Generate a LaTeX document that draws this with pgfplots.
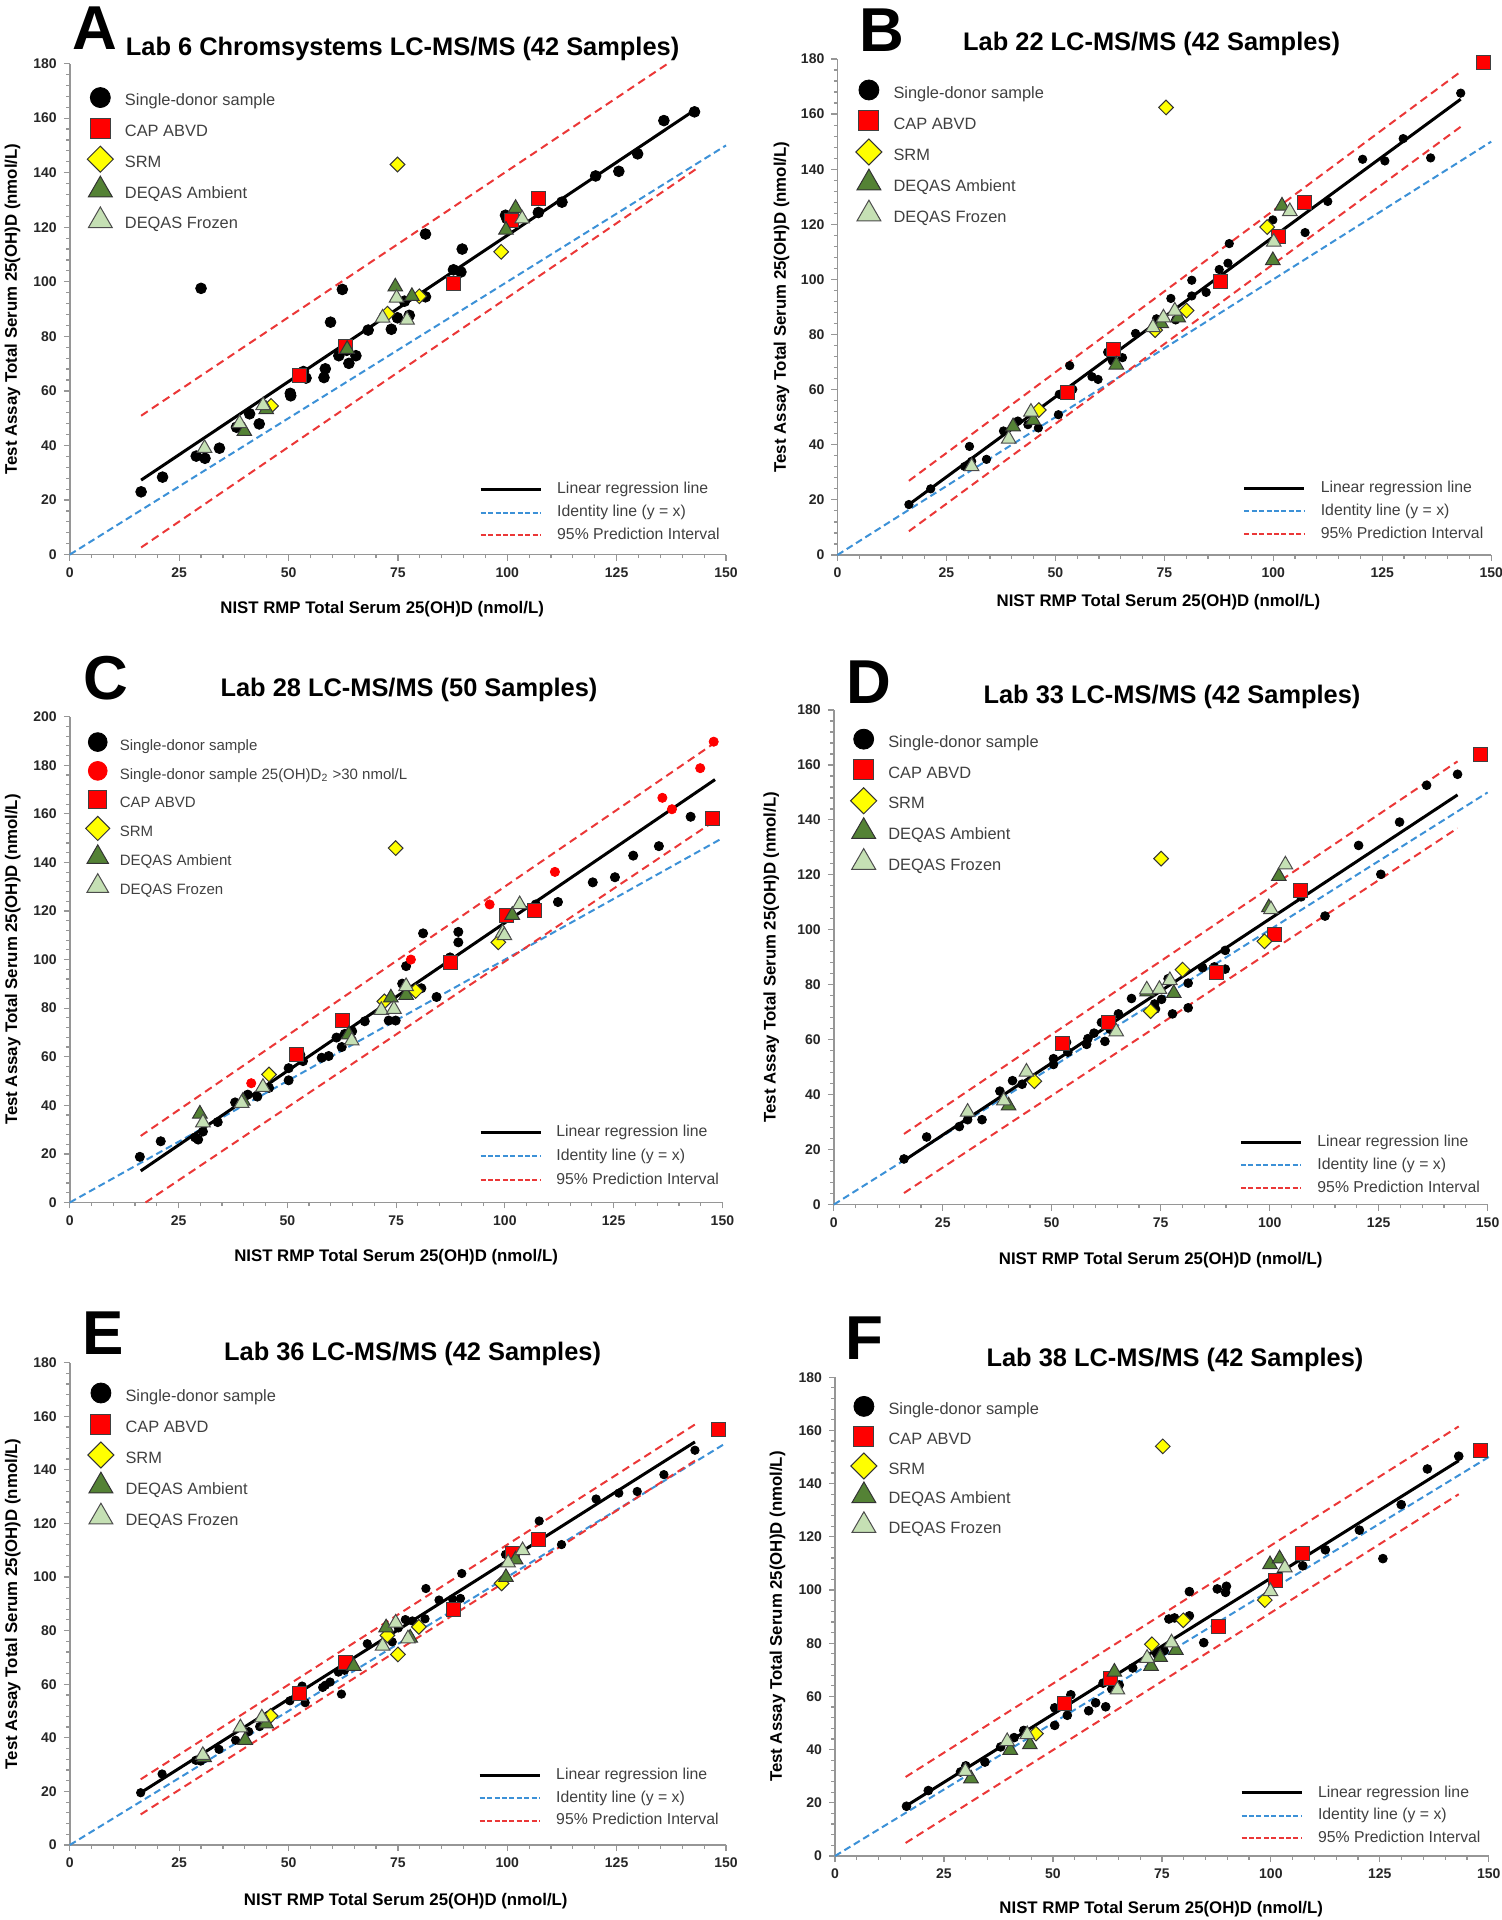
\documentclass[border=0pt]{standalone}
\usepackage{fontspec}
\setmainfont{Liberation Sans}
\usepackage{pgfplots}
\pgfplotsset{compat=1.18}
\definecolor{axgray}{RGB}{150,150,150}
\definecolor{legtext}{RGB}{64,64,64}
\definecolor{identblue}{RGB}{60,145,215}
\definecolor{pired}{RGB}{235,55,55}
\definecolor{capred}{RGB}{255,0,0}
\definecolor{srmyellow}{RGB}{255,255,0}
\definecolor{ambgreen}{RGB}{84,130,53}
\definecolor{frzgreen}{RGB}{197,224,180}
\tikzset{
  reg/.style={black, line width=1.5pt},
  ident/.style={identblue, line width=1pt, dash pattern=on 3.5pt off 2pt},
  pint/.style={pired, line width=1pt, dash pattern=on 4pt off 2.5pt},
  lsd/.style={mark=*, draw=black, fill=black, mark size=5pt},
  lsdr/.style={mark=*, draw=red, fill=red, mark size=4.7pt},
  lcap/.style={mark=square*, draw=black!75, fill=capred, mark size=5pt, line width=0.5pt},
  lsrm/.style={mark=square*, mark options={rotate=45}, draw=black!80, fill=srmyellow, mark size=4.6pt, line width=0.5pt},
  lamb/.style={mark=triangle*, draw=black!80, fill=ambgreen, mark size=6.9pt, line width=0.5pt},
  lfrz/.style={mark=triangle*, draw=black!70, fill=frzgreen, mark size=6.9pt, line width=0.5pt},
}
\pgfplotsset{
  sd/.style={only marks, mark=*, draw=black, fill=black, mark size=2.1pt},
  sdr/.style={only marks, mark=*, draw=red, fill=red, mark size=2.1pt},
  cap/.style={only marks, mark=square*, draw=black!75, fill=capred, mark size=3.5pt, line width=0.5pt},
  srm/.style={only marks, mark=square*, mark options={rotate=45}, draw=black!80, fill=srmyellow, mark size=2.6pt, line width=0.5pt},
  amb/.style={only marks, mark=triangle*, draw=black!80, fill=ambgreen, mark size=4.2pt, line width=0.5pt},
  frz/.style={only marks, mark=triangle*, draw=black!70, fill=frzgreen, mark size=4.2pt, line width=0.5pt},
  panel/.style={scale only axis, anchor=south west, xmin=0, xmax=150, ymin=0, clip=false},
  lineaxis/.style={panel,
    axis x line*=bottom, axis y line*=left,
    axis line style={draw=axgray, line width=0.8pt, -},
    xtick={0,25,...,150}, minor x tick num=4, minor y tick num=4,
    tick align=outside, major tick length=3pt, minor tick length=1.8pt,
    tick style={draw=axgray, line width=0.6pt},
    /pgf/number format/assume math mode=true,
    tick label style={font=\fontsize{7}{8}\selectfont\bfseries, text=black!85},
    xlabel={NIST RMP Total Serum 25(OH)D (nmol/L)},
    ylabel={Test Assay Total Serum 25(OH)D (nmol/L)},
    label style={font=\fontsize{8.4}{10}\selectfont\bfseries},
    legend image code/.code={\draw[##1] (0pt,0pt) -- (30pt,0pt);},
    legend cell align=left,
    legend style={draw=none, fill=none, inner sep=0pt, outer sep=0pt, anchor=south west,
      column sep=7.5pt, row sep=0pt, font=\fontsize{7.9}{9}\selectfont, text=legtext,
      nodes={inner sep=0pt, text height=6pt, text depth=1.8pt, minimum height=11.4pt}},
  },
  markaxis/.style={panel, hide axis,
    legend image code/.code={\draw[##1] plot coordinates {(0pt,2pt)};},
    legend cell align=left,
    legend style={draw=none, fill=none, inner sep=0pt, outer sep=0pt, anchor=north west,
      column sep=5.8pt, row sep=-2.9pt, font=\fontsize{8.2}{9}\selectfont, text=legtext,
      nodes={inner sep=0pt, text height=6pt, text depth=1.8pt, minimum height=18.3pt}},
  },
}
\newcommand{\linelegend}{%
  \addlegendimage{reg}\addlegendentry{Linear regression line}
  \addlegendimage{ident, dash pattern=on 2.5pt off 1.2pt}\addlegendentry{Identity line (y = x)}
  \addlegendimage{pint, dash pattern=on 2.5pt off 1.2pt}\addlegendentry{95\% Prediction Interval}}
\newcommand{\marklegend}{%
  \addlegendimage{lsd}\addlegendentry{Single-donor sample}
  \addlegendimage{lcap}\addlegendentry{CAP ABVD}
  \addlegendimage{lsrm}\addlegendentry{SRM}
  \addlegendimage{lamb}\addlegendentry{DEQAS Ambient}
  \addlegendimage{lfrz}\addlegendentry{DEQAS Frozen}}
\begin{document}
\begin{tikzpicture}
\path[use as bounding box] (0,0) rectangle (750.5pt,960pt);
% ================= A =================
\begin{axis}[lineaxis, at={(34.9pt,682.7pt)}, width=328.1pt, height=245.5pt, ymax=180, ytick={0,20,...,180},
  xlabel style={at={(axis description cs:0.476,-0.1108)}, anchor=center},
  ylabel style={at={(axis description cs:-0.0872,0.5)}, anchor=center},
  legend style={at={(axis description cs:0.6239,0.0159)}}]
\linelegend
\addplot[ident, forget plot] coordinates {(0,0)(150,150)};
\addplot[pint, forget plot] coordinates {(16.3,50.9)(136.7,180)};
\addplot[pint, forget plot] coordinates {(16.3,2.6)(143.3,141.5)};
\addplot[reg, forget plot] coordinates {(16.3,27.3)(142.8,162.9)};
\end{axis}
\begin{axis}[markaxis, at={(34.9pt,682.7pt)}, width=328.1pt, height=245.5pt, ymax=180,
  legend style={at={(axis description cs:0.0267,0.9599)}}]
\marklegend
\addplot[sd, mark size=2.7pt, forget plot] coordinates {(16.3,23.0)(21.2,28.4)(28.9,36.1)(30.9,35.3)(30.0,97.6)(34.2,39.0)(38.1,46.7)(41.1,51.6)(43.3,47.9)(50.4,59.1)(50.5,58.2)(53.4,67.1)(54.0,64.7)(58.1,64.9)(58.4,68.1)(59.6,85.2)(61.5,72.9)(62.3,97.2)(63.3,74.9)(63.8,70.1)(65.4,72.9)(68.2,82.3)(73.5,82.6)(74.9,86.8)(76.5,92.9)(77.6,87.7)(81.3,94.5)(81.3,117.5)(87.7,104.4)(89.4,103.6)(89.7,112.0)(99.6,124.4)(99.9,123.2)(107.1,125.4)(112.5,129.2)(120.2,138.8)(125.5,140.5)(129.8,146.9)(135.8,159.1)(142.8,162.3)};
\addplot[cap, forget plot] coordinates {(52.5,65.5)(63.0,76.1)(87.7,99.2)(101.0,122.6)(107.1,130.6)};
\addplot[srm, forget plot] coordinates {(74.9,143.0)(46.0,54.5)(72.6,88.3)(79.9,94.7)(98.6,111.0)};
\addplot[amb, forget plot] coordinates {(39.9,45.2)(44.9,53.2)(74.4,98.2)(63.4,75.3)(78.2,94.7)(99.7,119.0)(101.9,127.0)};
\addplot[frz, forget plot] coordinates {(30.8,39.0)(38.8,48.1)(44.2,54.7)(71.5,86.8)(74.7,94.1)(77.1,86.0)(103.4,123.1)};
\end{axis}
% ================= B =================
\begin{axis}[lineaxis, at={(418.7pt,682.5pt)}, width=326.9pt, height=248pt, ymax=180, ytick={0,20,...,180},
  xlabel style={at={(axis description cs:0.491,-0.0948)}, anchor=center},
  ylabel style={at={(axis description cs:-0.0853,0.5)}, anchor=center},
  legend style={at={(axis description cs:0.6201,0.0194)}}]
\linelegend
\addplot[ident, forget plot] coordinates {(0,0)(150,150)};
\addplot[pint, forget plot] coordinates {(16.4,26.9)(143,175.4)};
\addplot[pint, forget plot] coordinates {(16.4,8.6)(143,155.4)};
\addplot[reg, forget plot] coordinates {(16.4,18.3)(143,165.4)};
\end{axis}
\begin{axis}[markaxis, at={(418.7pt,682.5pt)}, width=326.9pt, height=248pt, ymax=180,
  legend style={at={(axis description cs:0.0283,0.9663)}, row sep=-2.8pt}]
\marklegend
\addplot[sd, forget plot] coordinates {(16.4,18.3)(21.4,24.0)(29.2,32.1)(30.3,39.4)(30.8,34.0)(34.2,34.7)(38.1,45.0)(41.4,48.6)(43.7,47.3)(46.1,46.1)(50.7,50.9)(50.9,58.3)(53.3,68.7)(54.0,60.1)(58.4,64.7)(59.8,63.7)(62.0,73.6)(63.1,70.4)(65.4,71.6)(68.4,80.4)(73.2,85.7)(76.5,93.1)(77.6,85.3)(81.3,99.7)(81.3,94.0)(84.6,95.3)(87.6,103.6)(89.6,105.9)(89.9,113.0)(99.9,121.6)(107.3,117.0)(112.5,128.3)(120.5,143.6)(125.6,143.0)(129.8,151.1)(136.1,144.1)(143.0,167.6)};
\addplot[cap, forget plot] coordinates {(52.7,59.1)(63.3,74.6)(87.9,99.3)(101.2,115.4)(107.1,127.9)(148.3,178.7)};
\addplot[srm, forget plot] coordinates {(75.4,162.4)(46.2,52.6)(72.9,81.6)(80.1,88.7)(98.6,119.0)};
\addplot[amb, forget plot] coordinates {(40.3,46.6)(44.9,48.9)(64.0,69.0)(74.3,84.0)(78.2,86.1)(99.9,106.9)(102.0,126.7)};
\addplot[frz, forget plot] coordinates {(30.8,32.1)(39.3,42.1)(44.4,51.9)(72.4,82.6)(74.8,86.1)(77.4,88.6)(100.1,113.6)(103.8,124.7)};
\end{axis}
% ================= C =================
\begin{axis}[lineaxis, at={(34.9pt,358.75pt)}, width=326.3pt, height=242.9pt, ymax=200, ytick={0,20,...,200},
  xlabel style={at={(axis description cs:0.5,-0.1124)}, anchor=center},
  ylabel style={at={(axis description cs:-0.0873,0.5)}, anchor=center},
  legend style={at={(axis description cs:0.6273,0.0222)}, column sep=7.1pt, nodes={minimum height=11.8pt}}]
\linelegend
\addplot[ident, forget plot] coordinates {(0,0)(150,150)};
\addplot[pint, forget plot] coordinates {(16.3,27.4)(148.3,189.3)};
\addplot[pint, forget plot] coordinates {(17.4,0)(148.3,157.2)};
\addplot[reg, forget plot] coordinates {(16.3,13.0)(148.3,174.1)};
\end{axis}
\begin{axis}[markaxis, at={(34.9pt,358.75pt)}, width=326.3pt, height=242.9pt, ymax=200,
  legend style={at={(axis description cs:0.0244,0.9743)}, row sep=-2.5pt, column sep=5.05pt,
    font=\fontsize{7.5}{9}\selectfont, nodes={minimum height=16.9pt}}]
\addlegendimage{lsd, mark size=4.7pt}\addlegendentry{Single-donor sample}
\addlegendimage{lsdr, mark size=4.7pt}\addlegendentry{Single-donor sample 25(OH)D\textsubscript{2} >30 nmol/L}
\addlegendimage{lcap, mark size=4.6pt}\addlegendentry{CAP ABVD}
\addlegendimage{lsrm, mark size=4.25pt}\addlegendentry{SRM}
\addlegendimage{lamb, mark size=6.2pt}\addlegendentry{DEQAS Ambient}
\addlegendimage{lfrz, mark size=6.2pt}\addlegendentry{DEQAS Frozen}
\addplot[sd, mark size=2.3pt, forget plot] coordinates {(16.1,18.8)(20.9,25.2)(28.8,26.8)(29.5,25.9)(30.6,29.2)(34.0,33.1)(38.0,41.2)(40.9,44.4)(43.1,43.6)(45.8,47.2)(50.3,50.3)(50.3,55.3)(53.0,60.8)(53.6,58.2)(57.9,59.6)(59.5,60.3)(61.3,67.9)(62.5,64.0)(63.2,69.4)(64.9,70.5)(67.8,74.6)(73.3,74.9)(74.9,74.9)(76.4,90.1)(77.3,97.3)(80.8,88.2)(81.2,110.8)(84.3,84.6)(87.4,100.9)(89.3,107.1)(89.3,111.4)(107.1,122.7)(112.2,123.7)(120.2,131.8)(125.3,133.9)(129.5,142.8)(135.4,146.7)(142.7,158.8)};
\addplot[sdr, mark size=2.3pt, forget plot] coordinates {(41.7,49.1)(78.4,100.0)(96.5,122.7)(111.5,136.1)(136.2,166.6)(138.4,161.9)(144.9,178.8)(148.0,189.7)};
\addplot[cap, forget plot] coordinates {(52.2,61.0)(62.6,74.9)(87.4,98.7)(100.4,118.0)(106.7,120.4)(147.7,158.0)};
\addplot[srm, forget plot] coordinates {(74.9,145.9)(45.8,52.7)(72.3,82.8)(79.5,87.1)(98.5,107.1)};
\addplot[amb, forget plot] coordinates {(29.9,36.5)(39.8,41.8)(73.8,84.3)(77.3,85.4)(101.7,118.3)(64.1,69.1)};
\addplot[frz, forget plot] coordinates {(30.6,32.9)(39.5,40.9)(44.4,47.5)(71.6,79.2)(74.5,79.6)(77.3,89.0)(64.8,66.6)(99.5,111.0)(99.9,109.9)(103.4,122.7)};
\end{axis}
% ================= D =================
\begin{axis}[lineaxis, at={(416.9pt,357.7pt)}, width=326.9pt, height=247.3pt, ymax=180, ytick={0,20,...,180},
  xlabel style={at={(axis description cs:0.5,-0.1132)}, anchor=center},
  ylabel style={at={(axis description cs:-0.0957,0.5)}, anchor=center},
  legend style={at={(axis description cs:0.6204,0.0101)}}]
\linelegend
\addplot[ident, forget plot] coordinates {(0,0)(150,150)};
\addplot[pint, forget plot] coordinates {(16.1,25.7)(143.1,161.3)};
\addplot[pint, forget plot] coordinates {(16.1,4.2)(143.1,137.0)};
\addplot[reg, forget plot] coordinates {(16.1,16.0)(143.1,149.1)};
\end{axis}
\begin{axis}[markaxis, at={(416.9pt,357.7pt)}, width=326.9pt, height=247.3pt, ymax=180,
  legend style={at={(axis description cs:0.0258,0.9699)}}]
\marklegend
\addplot[sd, mark size=2.2pt, forget plot] coordinates {(16.1,16.6)(21.3,24.6)(28.8,28.4)(30.7,30.9)(34.0,30.9)(38.1,41.3)(41.0,45.1)(43.2,43.8)(50.4,53.1)(50.4,51.0)(53.4,59.1)(53.7,55.5)(58.0,58.3)(58.3,60.4)(59.7,62.4)(61.4,66.3)(62.2,59.4)(63.4,63.8)(65.3,69.4)(68.3,75.0)(73.6,73.0)(73.8,71.2)(75.2,74.7)(76.7,82.2)(77.7,69.4)(81.3,80.6)(81.3,71.6)(84.6,86.2)(87.3,86.5)(89.8,85.7)(89.8,92.5)(107.2,112.0)(112.7,105.0)(120.4,130.7)(125.5,120.2)(129.8,139.2)(136.0,152.6)(143.1,156.6)};
\addplot[cap, forget plot] coordinates {(52.5,58.7)(63.0,66.3)(87.7,84.4)(101.1,98.4)(107.1,114.3)(148.4,163.7)};
\addplot[srm, forget plot] coordinates {(75.1,125.9)(46.0,44.9)(72.7,70.4)(80.0,85.5)(98.8,95.8)};
\addplot[amb, forget plot] coordinates {(40.1,36.0)(71.9,77.5)(78.0,76.9)(99.8,108.1)(102.1,119.5)};
\addplot[frz, forget plot] coordinates {(30.7,33.7)(39.0,37.8)(44.2,48.3)(64.8,62.9)(71.8,78.2)(74.7,78.4)(77.1,81.6)(100.3,107.4)(103.6,123.7)};
\end{axis}
% ================= E =================
\begin{axis}[lineaxis, at={(34.9pt,37.5pt)}, width=328.1pt, height=241.2pt, ymax=180, ytick={0,20,...,180},
  xlabel style={at={(axis description cs:0.512,-0.1169)}, anchor=center},
  ylabel style={at={(axis description cs:-0.0869,0.5)}, anchor=center},
  legend style={at={(axis description cs:0.6224,0.0269)}}]
\linelegend
\addplot[ident, forget plot] coordinates {(0,0)(150,150)};
\addplot[pint, forget plot] coordinates {(16.2,24.5)(142.9,156.9)};
\addplot[pint, forget plot] coordinates {(16.2,11.4)(142.9,143.4)};
\addplot[reg, forget plot] coordinates {(16.2,19.5)(142.9,150.4)};
\end{axis}
\begin{axis}[markaxis, at={(34.9pt,37.5pt)}, width=328.1pt, height=241.2pt, ymax=180,
  legend style={at={(axis description cs:0.0276,0.9666)}, row sep=-2.8pt}]
\marklegend
\addplot[sd, forget plot] coordinates {(16.2,19.5)(21.1,26.5)(28.8,31.6)(29.9,31.3)(31.0,32.4)(34.1,35.7)(37.9,39.1)(40.9,42.3)(43.4,44.2)(50.3,53.8)(53.1,59.3)(53.8,53.1)(57.8,58.8)(58.4,59.6)(59.5,60.8)(61.4,64.5)(62.1,56.3)(62.8,65.2)(63.4,67.4)(68.0,75.1)(73.7,75.8)(75.1,81.0)(76.7,84.1)(78.3,83.6)(81.2,84.4)(81.4,95.7)(84.4,91.4)(87.5,91.7)(89.6,101.3)(89.3,92.0)(99.6,108.4)(107.3,120.9)(112.4,112.1)(120.3,129.1)(125.5,131.3)(129.7,131.9)(135.8,138.2)(142.9,147.3)};
\addplot[cap, forget plot] coordinates {(52.6,56.6)(63.0,68.1)(87.7,87.9)(101.1,108.7)(107.1,114.0)(148.3,155.2)};
\addplot[srm, forget plot] coordinates {(45.9,48.2)(72.6,78.2)(75.0,71.1)(79.8,81.4)(98.7,97.6)};
\addplot[amb, forget plot] coordinates {(40.1,39.1)(44.9,45.3)(64.9,66.7)(72.3,81.1)(77.8,77.3)(99.7,99.9)(101.9,106.5)(30.7,32.7)};
\addplot[frz, forget plot] coordinates {(30.4,33.5)(39.0,43.8)(43.9,47.5)(71.5,74.3)(74.5,82.9)(77.3,77.0)(100.2,105.3)(103.5,109.9)};
\end{axis}
% ================= F =================
\begin{axis}[lineaxis, at={(417.5pt,32pt)}, width=326.9pt, height=239.4pt, ymax=180, ytick={0,20,...,180},
  xlabel style={at={(axis description cs:0.499,-0.1111)}, anchor=center},
  ylabel style={at={(axis description cs:-0.0878,0.5)}, anchor=center},
  legend style={at={(axis description cs:0.6195,0.0129)}}]
\linelegend
\addplot[ident, forget plot] coordinates {(0,0)(150,150)};
\addplot[pint, forget plot] coordinates {(16.2,29.7)(143.1,161.5)};
\addplot[pint, forget plot] coordinates {(16.2,4.9)(143.1,136.0)};
\addplot[reg, forget plot] coordinates {(16.2,18.7)(143.1,148.6)};
\end{axis}
\begin{axis}[markaxis, at={(417.5pt,32pt)}, width=326.9pt, height=239.4pt, ymax=180,
  legend style={at={(axis description cs:0.0243,0.9689)}, row sep=-3.4pt}]
\marklegend
\addplot[sd, mark size=2.2pt, forget plot] coordinates {(16.4,18.7)(21.4,24.6)(28.8,31.6)(30.0,33.9)(34.4,35.3)(38.0,41.0)(41.1,44.5)(43.3,47.2)(50.4,49.1)(50.4,55.7)(53.3,52.9)(54.1,60.6)(58.2,54.6)(59.8,57.6)(62.1,56.1)(61.5,65.0)(63.5,62.8)(65.2,64.3)(68.3,70.7)(73.8,76.0)(75.5,77.2)(76.6,89.1)(77.9,89.5)(81.3,90.3)(81.3,99.4)(84.6,80.2)(87.7,100.4)(89.6,99.1)(89.8,101.4)(107.3,109.1)(112.5,115.1)(120.3,122.5)(125.7,111.8)(129.9,132.1)(135.9,145.5)(143.1,150.3)};
\addplot[cap, forget plot] coordinates {(52.7,57.3)(63.3,66.8)(87.9,86.1)(101.0,103.6)(107.3,113.9)(148.2,152.3)};
\addplot[srm, forget plot] coordinates {(75.2,154.0)(46.1,46.0)(72.7,79.6)(79.9,88.6)(98.6,96.2)};
\addplot[amb, forget plot] coordinates {(31.2,29.1)(40.2,39.8)(44.7,41.9)(64.1,69.2)(72.5,71.4)(74.6,74.7)(78.2,77.4)(99.8,109.6)(102.0,111.8)};
\addplot[frz, forget plot] coordinates {(29.9,31.9)(39.5,43.1)(44.1,45.7)(64.8,62.5)(71.6,74.4)(77.2,80.2)(99.9,99.5)(103.2,108.4)};
\end{axis}
% ================= titles and panel letters =================
\begin{scope}[every node/.style={font=\fontsize{12.7}{14}\selectfont\bfseries, anchor=base, inner sep=0pt}]
\node at (201.3pt,932.2pt) {Lab 6 Chromsystems LC-MS/MS (42 Samples)};
\node at (575.8pt,934.8pt) {Lab 22 LC-MS/MS (42 Samples)};
\node at (204.5pt,611.6pt) {Lab 28 LC-MS/MS (50 Samples)};
\node at (586.0pt,608.1pt) {Lab 33 LC-MS/MS (42 Samples)};
\node at (206.3pt,279.7pt) {Lab 36 LC-MS/MS (42 Samples)};
\node at (587.5pt,276.6pt) {Lab 38 LC-MS/MS (42 Samples)};
\end{scope}
\begin{scope}[every node/.style={font=\fontsize{31}{34}\selectfont\bfseries, anchor=center, inner sep=0pt}]
\node at (47.3pt,945.9pt) {A};
\node at (441.0pt,944.8pt) {B};
\node at (52.8pt,620.9pt) {C};
\node at (434.2pt,618.7pt) {D};
\node at (51.6pt,293.2pt) {E};
\node at (432.4pt,291.0pt) {F};
\end{scope}
\end{tikzpicture}
\end{document}
